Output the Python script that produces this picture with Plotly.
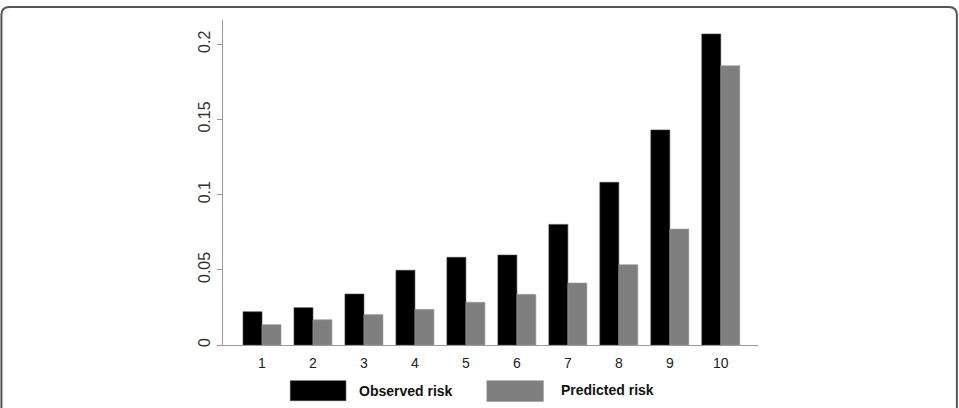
import plotly.graph_objects as go

deciles = [1, 2, 3, 4, 5, 6, 7, 8, 9, 10]
observed = [0.0221, 0.0248, 0.0339, 0.0497, 0.0583, 0.0598, 0.0802, 0.1082, 0.1430, 0.2068]
predicted = [0.0135, 0.0168, 0.0202, 0.0237, 0.0284, 0.0337, 0.0412, 0.0534, 0.0771, 0.1857]
y_ticks = [0, 0.05, 0.1, 0.15, 0.2]
y_tick_text = ["0", "0.05", "0.1", "0.15", "0.2"]
legend_names = ["Observed risk", "Predicted risk"]
colors = ["#000000", "#7f7f7f"]

W, H = 959, 408
L, R, T, B = 222.7, 201, 20, 63
pw, ph = W - L - R, H - T - B


def px(x):
    return (x - L) / pw


def py(y):
    return (H - B - y) / ph


fig = go.Figure()
fig.add_trace(go.Bar(x=deciles, y=observed, name=legend_names[0],
                     marker=dict(color=colors[0], line=dict(width=0.6, color="#444"))))
fig.add_trace(go.Bar(x=deciles, y=predicted, name=legend_names[1],
                     marker=dict(color=colors[1], line=dict(width=0.6, color="#999"))))

shapes = []
# legend swatches
shapes.append(dict(type="rect", xref="paper", yref="paper",
                   x0=px(290), x1=px(345.7), y0=py(400.7), y1=py(380.7),
                   fillcolor=colors[0], line=dict(width=0.6, color="#444")))
shapes.append(dict(type="rect", xref="paper", yref="paper",
                   x0=px(486.7), x1=px(543.3), y0=py(401.5), y1=py(380.7),
                   fillcolor=colors[1], line=dict(width=0.6, color="#999")))
# outer rounded frame (top and sides)
r = 8
path = (f"M {px(1)},{py(420)} L {px(1)},{py(7 + r)} Q {px(1)},{py(7)} {px(1 + r)},{py(7)} "
        f"L {px(957 - r)},{py(7)} Q {px(957)},{py(7)} {px(957)},{py(7 + r)} L {px(957)},{py(420)}")
shapes.append(dict(type="path", xref="paper", yref="paper", path=path,
                   line=dict(width=2, color="#555")))

annotations = [
    dict(text="<b>Observed risk</b>", xref="paper", yref="paper", x=px(357), y=py(391),
         xanchor="left", yanchor="middle", showarrow=False,
         font=dict(family="Liberation Sans, Arial", size=14, color="#111")),
    dict(text="<b>Predicted risk</b>", xref="paper", yref="paper", x=px(559), y=py(390),
         xanchor="left", yanchor="middle", showarrow=False,
         font=dict(family="Liberation Sans, Arial", size=14, color="#111")),
]

fig.update_layout(
    width=W, height=H,
    margin=dict(l=L, r=R, t=T, b=B),
    paper_bgcolor="white", plot_bgcolor="white",
    barmode="group", bargap=0.255, bargroupgap=0,
    showlegend=False,
    shapes=shapes, annotations=annotations,
    font=dict(family="Liberation Sans, Arial", size=12, color="#222"),
)
fig.update_xaxes(range=[0.235, 10.73], tickmode="array", tickvals=deciles,
                 ticktext=[str(d) for d in deciles], showline=True, linecolor="#999",
                 linewidth=1.2, ticks="", showgrid=False, zeroline=False,
                 ticklabelstandoff=5, tickfont=dict(size=14, color="#222"))
fig.update_yaxes(range=[0, 0.2161], tickmode="array", tickvals=y_ticks, ticktext=y_tick_text,
                 tickangle=-90, showline=True, linecolor="#999", linewidth=1.2,
                 ticks="outside", ticklen=5, tickcolor="#999", showgrid=False,
                 zeroline=False, tickfont=dict(size=16, color="#333"),
                 ticklabelstandoff=1)

fig.write_html("out.html")
